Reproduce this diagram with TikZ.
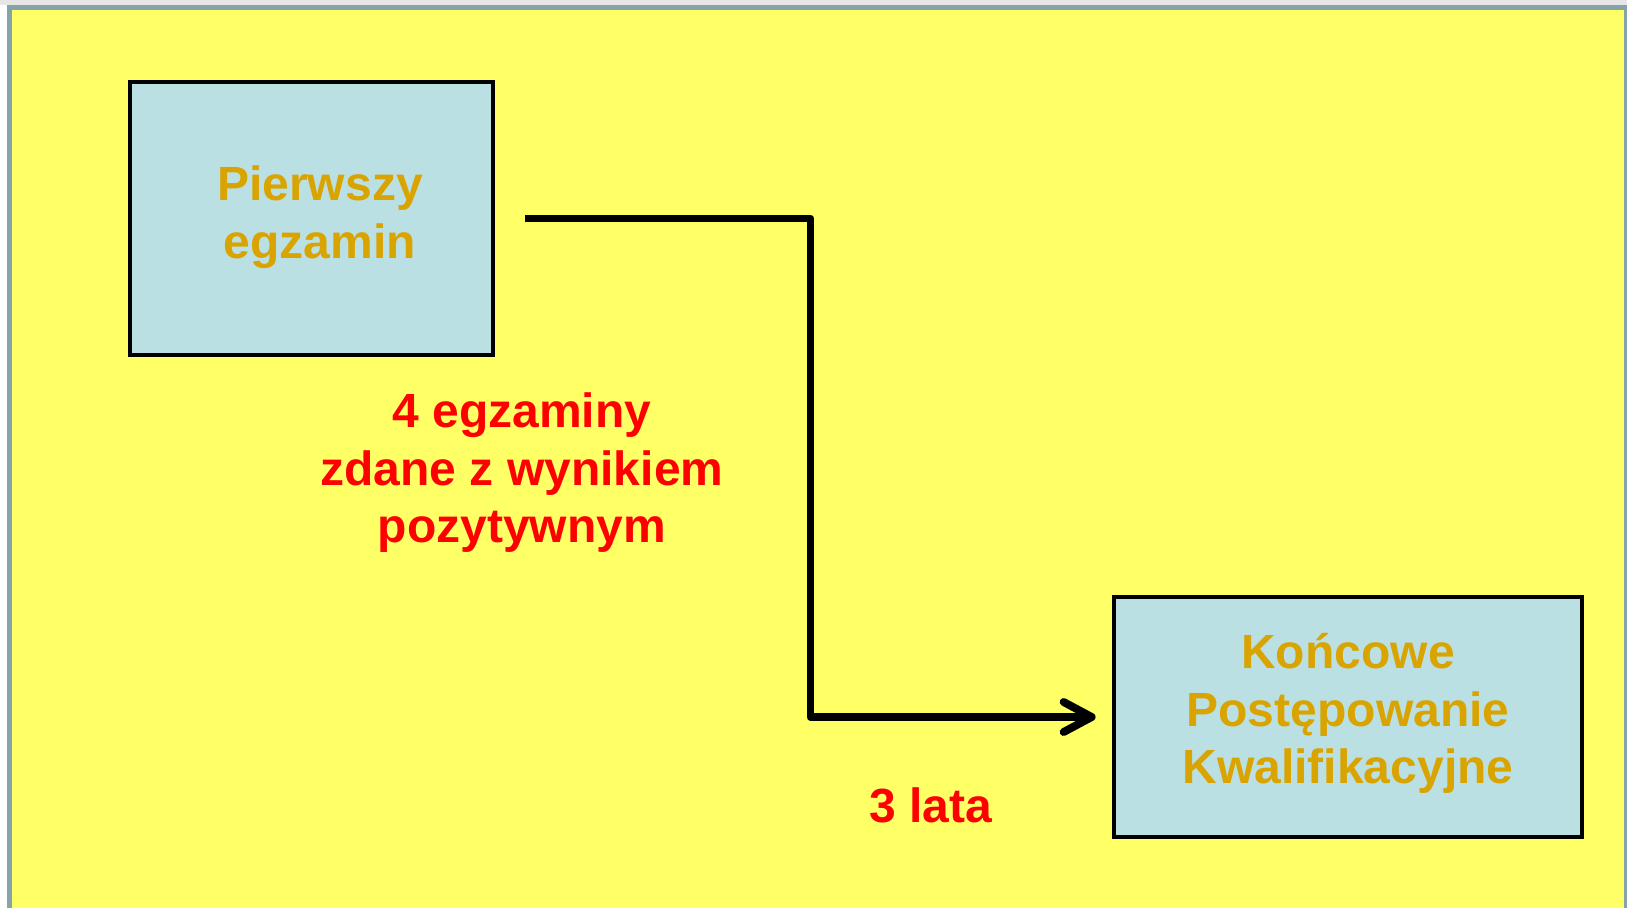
\documentclass[tikz,border=0pt]{standalone}
\usepackage{fontspec}
\setmainfont{Liberation Sans}
\usetikzlibrary{arrows.meta}
\definecolor{bgyellow}{HTML}{FFFF66}
\definecolor{framegray}{HTML}{85A3A8}
\definecolor{boxblue}{HTML}{BBE0E3}
\definecolor{gold}{HTML}{DAA400}
\definecolor{topgray}{HTML}{E6E6E6}
\tikzset{
  box/.style={draw=black, fill=boxblue, line width=4.8pt, inner sep=0pt},
  boxtext/.style={text=gold, align=center, inner sep=0pt, font=\fontsize{48}{57.5}\selectfont\bfseries},
  redtext/.style={text=red, align=center, inner sep=0pt, font=\fontsize{48}{57.5}\selectfont\bfseries},
  conn/.style={draw=black, line width=7.9pt, line join=round, -{Straight Barb[length=28pt,width=30pt,round]}}
}
\begin{document}
\begin{tikzpicture}[x=1pt,y=-1pt]
\useasboundingbox (0,0) rectangle (1627,908);
\fill[white] (0,0) rectangle (1627,908);
\fill[topgray] (0,0) rectangle (1627,5);
\fill[framegray] (7,5) rectangle (1627,908);
\fill[bgyellow] (12,10) rectangle (1624,908);

\node[box, minimum width=363pt, minimum height=273pt] (b1) at (311.5,218.5) {};
\node[box, minimum width=468pt, minimum height=240pt] (b2) at (1348,717) {};

\node[boxtext] (t1) at (320,217) {Pierwszy\\egzamin};
\node[boxtext] (t2) at (1348,713.5) {Końcowe\\Postępowanie\\Kwalifikacyjne};

\node[redtext] (r1) at (522,473) {4 egzaminy\\zdane z wynikiem\\pozytywnym};
\node[redtext] (r2) at (931,805) {3 lata};

\coordinate (bend) at (810.5,717);
\draw[conn] ([xshift=30pt]b1.east) -| (bend) -- ([xshift=-16pt]b2.west);
\end{tikzpicture}
\end{document}
